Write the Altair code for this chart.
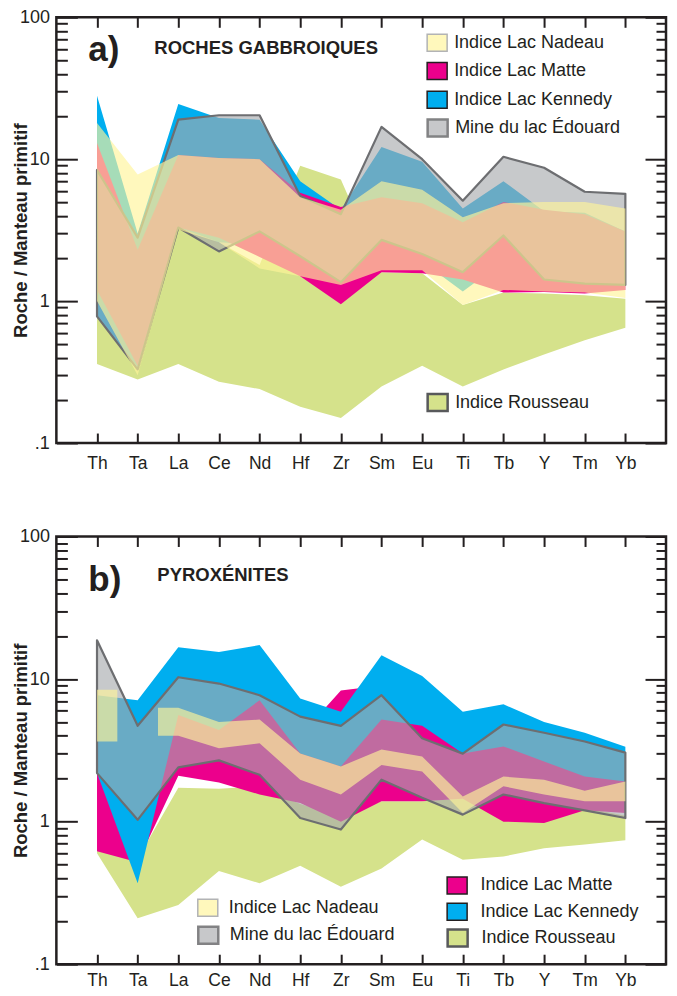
import altair as alt
import pandas as pd

# ------------------------------------------------------------------ data
ELEMENTS = ["Th", "Ta", "La", "Ce", "Nd", "Hf", "Zr", "Sm", "Eu", "Ti", "Tb", "Y", "Tm", "Yb"]

# a) ROCHES GABBROIQUES : lower / upper envelope (roche / manteau primitif)
A_ROUSSEAU_LO = [0.36, 0.28, 0.36, 0.27, 0.24, 0.18, 0.15, 0.25, 0.35, 0.25, 0.33, 0.42, 0.53, 0.65]
A_ROUSSEAU_HI = [0.80, 0.33, 3.30, 2.60, 1.80, 9.00, 7.20, 1.60, 1.57, 0.94, 1.15, 1.13, 1.10, 1.04]
A_KENNEDY_LO = [0.78, 0.34, 3.30, 2.60, 2.50, 1.90, 1.40, 2.30, 1.90, 1.17, 1.90, 1.60, 1.50, 1.40]
A_KENNEDY_HI = [28.0, 3.00, 24.5, 19.5, 19.0, 7.00, 4.40, 12.2, 9.60, 4.50, 7.00, 4.30, 4.20, 3.10]
A_MATTE_LO = [1.20, 0.35, 3.30, 2.80, 2.05, 1.50, 0.95, 1.60, 1.57, 1.42, 1.15, 1.16, 1.13, 1.20]
A_MATTE_HI = [13.0, 2.30, 10.7, 10.2, 10.0, 5.80, 4.60, 5.40, 4.90, 3.60, 5.00, 4.40, 4.10, 3.10]
A_EDOUARD_LO = [0.78, 0.33, 3.30, 2.24, 3.10, 2.07, 1.36, 2.70, 2.15, 1.60, 2.90, 1.42, 1.33, 1.30]
A_EDOUARD_HI = [8.40, 2.80, 19.0, 20.4, 20.4, 5.50, 4.10, 16.9, 10.0, 5.10, 10.4, 8.70, 5.90, 5.70]
A_NADEAU_LO = [1.00, 0.30, 3.20, 2.60, 1.70, 1.50, 1.30, 1.65, 1.65, 0.94, 1.20, 1.17, 1.15, 1.05]
A_NADEAU_HI = [18.0, 7.80, 10.7, 10.2, 10.0, 5.40, 4.40, 7.00, 6.10, 3.90, 4.90, 5.00, 5.00, 4.50]

# b) PYROXENITES
B_ROUSSEAU_LO = [0.60, 0.21, 0.26, 0.45, 0.37, 0.49, 0.35, 0.47, 0.75, 0.54, 0.57, 0.65, 0.69, 0.74]
B_ROUSSEAU_HI = [0.63, 0.55, 1.73, 1.70, 1.77, 1.33, 1.10, 1.39, 1.39, 1.45, 1.10, 1.10, 1.25, 1.10]
B_MATTE_LO = [0.62, 0.52, 2.10, 1.88, 1.55, 1.35, 1.00, 1.39, 1.39, 1.45, 1.00, 0.98, 1.20, 1.15]
B_MATTE_HI = [3.00, 3.00, 6.50, 5.50, 8.00, 4.00, 8.30, 9.00, 5.50, 3.50, 4.00, 3.00, 2.50, 2.20]
B_KENNEDY_LO = [2.19, 0.37, 5.60, 4.40, 7.10, 3.00, 2.44, 5.20, 4.70, 3.00, 3.37, 2.64, 2.07, 1.91]
B_KENNEDY_HI = [7.70, 7.10, 16.7, 15.5, 17.3, 7.30, 5.90, 14.7, 10.5, 5.90, 6.65, 5.00, 4.20, 3.35]
B_EDOUARD_LO = [2.19, 1.03, 2.40, 2.69, 2.13, 1.06, 0.88, 1.97, 1.47, 1.12, 1.55, 1.35, 1.20, 1.06]
B_EDOUARD_HI = [18.7, 4.70, 10.3, 9.30, 7.70, 5.45, 4.70, 7.70, 3.85, 3.00, 4.80, 4.20, 3.65, 3.05]
B_NADEAU_LO = [3.65, None, 4.00, 3.27, 3.55, 1.97, 1.55, 2.50, 2.25, 1.15, 1.77, 1.55, 1.39, 1.39]
B_NADEAU_HI = [8.40, None, 6.30, 5.00, 5.20, 3.00, 2.44, 3.20, 2.86, 1.50, 2.07, 1.97, 1.65, 1.91]

MAJOR_TICKS = [0.1, 1, 10, 100]
MINOR_TICKS = [m * d for d in (0.1, 1, 10) for m in range(2, 10)]

# ------------------------------------------------------------------ style
FONT = "Liberation Sans"
INK = "#231f20"
W = 610
H_A, H_B = 426, 428

GROUPS = {
    "nadeau": ("Indice Lac Nadeau", "#fff599", 0.65),
    "matte": ("Indice Lac Matte", "#ec008c", 1.0),
    "kennedy": ("Indice Lac Kennedy", "#00aeef", 1.0),
    "edouard": ("Mine du lac \u00c9douard", "#a7a9ac", 0.63),
    "rousseau": ("Indice Rousseau", "#d5e28b", 1.0),
}
SWATCH_STROKE = {
    "nadeau": ("#8a8c8e", 1.5),
    "matte": (INK, 1.5),
    "kennedy": (INK, 1.5),
    "edouard": ("#3a3b3d", 2.5),
    "rousseau": ("#58595b", 2.5),
}
SWATCH = "M-1,-0.85L1,-0.85L1,0.85L-1,0.85Z"

XS = alt.Scale(domain=[-1, len(ELEMENTS)], nice=False, zero=False)
YS = alt.Scale(type="log", domain=[0.1, 100], nice=False)
LABEL_EXPR = "[" + ",".join("'%s'" % e for e in ELEMENTS) + "][datum.value]"
X_IDX = list(range(len(ELEMENTS)))


def band_rows(lo, hi):
    rows, seg, n = [], 0, len(lo)
    for i in range(n):
        if lo[i] is None:
            seg += 1
            continue
        pts = [i]
        if i > 0 and lo[i - 1] is None:
            pts.insert(0, i - 0.5)
        if i < n - 1 and lo[i + 1] is None:
            pts.append(i + 0.5)
        for p in pts:
            rows.append({"x": p, "lo": lo[i], "hi": hi[i], "seg": seg})
    return rows


def swatch_legend(key, lx, ly, loff):
    sc, sw = SWATCH_STROKE[key]
    return alt.Legend(
        orient="none", legendX=lx, legendY=ly, title=None, padding=0,
        symbolType=SWATCH, symbolSize=400, symbolStrokeColor=sc,
        symbolStrokeWidth=sw, symbolOpacity=GROUPS[key][2],
        labelFont=FONT, labelFontSize=18, labelColor=INK, labelOffset=loff,
        labelLimit=400,
    )


def band(key, lo, hi, legend, x_axis, y_axis):
    label, color, op = GROUPS[key]
    df = pd.DataFrame(band_rows(lo, hi))
    df["group"] = label
    if key == "edouard":
        mk = dict(opacity=1, fillOpacity=op, stroke="#6d6e71", strokeWidth=2.2,
                  strokeOpacity=1, strokeJoin="round")
    else:
        mk = dict(opacity=1, fillOpacity=op, strokeWidth=0)
    return alt.Chart(df).mark_area(**mk).encode(
        x=alt.X("x:Q", scale=XS, axis=x_axis),
        y=alt.Y("lo:Q", scale=YS, axis=y_axis),
        y2="hi:Q",
        fill=alt.Fill("group:N", scale=alt.Scale(domain=[label], range=[color]), legend=legend),
        detail="seg:N",
    )


def tick_axis(orient, offset, values, size):
    return alt.Axis(orient=orient, offset=offset, values=values, ticks=True, tickSize=size,
                    tickWidth=2, tickColor=INK, labels=False, domain=False, grid=False,
                    title=None, zindex=1)


def axes_for(h, label_pad):
    x_labels = alt.Axis(orient="bottom", values=X_IDX, labelExpr=LABEL_EXPR,
                        ticks=False, tickSize=0, domain=False, grid=False, labelFont=FONT,
                        labelFontSize=17.5, labelColor=INK, labelPadding=label_pad,
                        labelOverlap=False, labelFlush=False, title=None)
    y_labels = alt.Axis(orient="left", values=MAJOR_TICKS,
                        labelExpr="datum.value >= 50 ? '100' : datum.value >= 5 ? '10' : datum.value >= 0.5 ? '1' : '.1'",
                        ticks=False, tickSize=0, domain=False, grid=False, labelFont=FONT,
                        labelFontSize=18, labelColor=INK, labelPadding=7, labelOverlap=False,
                        labelFlush=False,
                        title="Roche / Manteau primitif", titleFont=FONT, titleFontSize=18.5,
                        titleFontWeight="bold", titleColor=INK, titleX=-36, titleY=h / 2,
                        titleAngle=270, titleAlign="center", titleBaseline="middle")
    return [
        (x_labels, y_labels),
        (tick_axis("top", -h, X_IDX, 10), tick_axis("right", -W, MAJOR_TICKS, 21)),
        (tick_axis("bottom", -h, X_IDX, 10), tick_axis("right", -W, MINOR_TICKS, 11)),
        (None, tick_axis("left", -W, MAJOR_TICKS, 21)),
        (None, tick_axis("left", -W, MINOR_TICKS, 10)),
    ]


def text(txt, x, y, size):
    return alt.Chart(pd.DataFrame({"t": [txt]})).mark_text(
        font=FONT, fontSize=size, fontWeight="bold", align="left", baseline="alphabetic", color=INK
    ).encode(x=alt.value(x), y=alt.value(y), text="t:N")


def panel(order, data, legends, h, label_pad, tag, tag_y, title, title_x, title_y):
    axes = axes_for(h, label_pad)
    layers = []
    for i, key in enumerate(order):
        lo, hi = data[key]
        xa, ya = axes[i]
        layers.append(band(key, lo, hi, legends[key], xa, ya))
    layers.append(text(tag, 32, tag_y, 35))
    layers.append(text(title, title_x, title_y, 18.5))
    return (
        alt.layer(*layers)
        .resolve_scale(fill="independent")
        .resolve_axis(x="independent", y="independent")
        .properties(width=W, height=h)
    )


panel_a = panel(
    ["rousseau", "kennedy", "matte", "edouard", "nadeau"],
    {
        "rousseau": (A_ROUSSEAU_LO, A_ROUSSEAU_HI),
        "kennedy": (A_KENNEDY_LO, A_KENNEDY_HI),
        "matte": (A_MATTE_LO, A_MATTE_HI),
        "edouard": (A_EDOUARD_LO, A_EDOUARD_HI),
        "nadeau": (A_NADEAU_LO, A_NADEAU_HI),
    },
    {
        "nadeau": swatch_legend("nadeau", 370, 14.5, 6),
        "matte": swatch_legend("matte", 370, 42.8, 6),
        "kennedy": swatch_legend("kennedy", 370, 71.5, 6),
        "edouard": swatch_legend("edouard", 370, 99.2, 6),
        "rousseau": swatch_legend("rousseau", 370, 374, 6),
    },
    H_A, 11, "a)", 43.3, "ROCHES GABBROIQUES", 98, 36.7,
)

panel_b = panel(
    ["rousseau", "matte", "kennedy", "edouard", "nadeau"],
    {
        "rousseau": (B_ROUSSEAU_LO, B_ROUSSEAU_HI),
        "matte": (B_MATTE_LO, B_MATTE_HI),
        "kennedy": (B_KENNEDY_LO, B_KENNEDY_HI),
        "edouard": (B_EDOUARD_LO, B_EDOUARD_HI),
        "nadeau": (B_NADEAU_LO, B_NADEAU_HI),
    },
    {
        "nadeau": swatch_legend("nadeau", 140.5, 360.5, 10),
        "edouard": swatch_legend("edouard", 140.5, 387.5, 10),
        "matte": swatch_legend("matte", 390, 338.2, 12.5),
        "kennedy": swatch_legend("kennedy", 390, 364.5, 12.5),
        "rousseau": swatch_legend("rousseau", 390, 390.2, 12.5),
    },
    H_B, 7, "b)", 54.7, "PYROX\u00c9NITES", 101, 44.7,
)

chart = (
    alt.vconcat(panel_a, panel_b, spacing=52.5)
    .resolve_scale(fill="independent")
    .properties(padding={"left": 1.4, "top": -2, "right": 0, "bottom": -1})
    .configure(font=FONT)
    .configure_view(stroke=INK, strokeWidth=2.5)
)

chart.save("out.html", embed_options={"renderer": "svg", "actions": False})
